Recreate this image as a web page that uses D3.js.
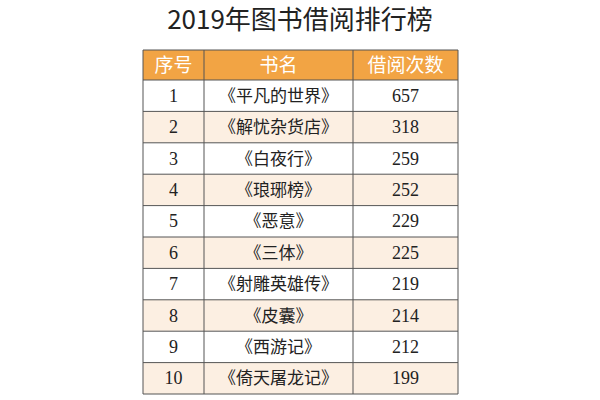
<!DOCTYPE html><html><head><meta charset="utf-8"><script src="https://cdn.jsdelivr.net/npm/d3@7"></script>
<style>body{margin:0;background:#fff}</style></head><body><svg id="c" width="600" height="400"></svg>
<script>
const title = "2019年图书借阅排行榜";
const headers = ["序号","书名","借阅次数"];
const ranks = [1,2,3,4,5,6,7,8,9,10];
const books = ["《平凡的世界》","《解忧杂货店》","《白夜行》","《琅琊榜》","《恶意》","《三体》","《射雕英雄传》","《皮囊》","《西游记》","《倚天屠龙记》"];
const counts = [657,318,259,252,229,225,219,214,212,199];

const svg = d3.select("#c");
svg.append("text").attr("x",300).attr("y",29).attr("text-anchor","middle")
  .attr("font-family","Noto Sans CJK SC").attr("font-size",26).attr("fill","#222").text(title);
const colX = [143,204,353,458];
const top0 = 50, headH = 30, rowH = 31.4;
const y = d3.scaleBand().domain(ranks).range([top0+headH, top0+headH+rowH*10]);
svg.append("rect").attr("x",colX[0]).attr("y",top0).attr("width",colX[3]-colX[0]).attr("height",headH).attr("fill","#f2a444");
headers.forEach((h,i)=>svg.append("text").attr("x",(colX[i]+colX[i+1])/2).attr("y",top0+headH/2+7)
  .attr("text-anchor","middle").attr("font-family","Noto Sans CJK SC").attr("font-size",19).attr("fill","#fff").text(h));
const g = svg.selectAll("g.r").data(ranks).join("g");
g.append("rect").attr("x",colX[0]).attr("y",d=>y(d)).attr("width",colX[3]-colX[0]).attr("height",y.bandwidth())
  .attr("fill",(d,i)=>i%2? "#fcefe2":"#fff");
const cols=[ranks,books,counts];
cols.forEach((arr,ci)=>g.append("text").attr("x",(colX[ci]+colX[ci+1])/2).attr("y",d=>y(d)+y.bandwidth()/2+6)
  .attr("text-anchor","middle").attr("font-family",ci==1?"Noto Sans CJK SC":"Liberation Serif")
  .attr("font-size",ci==1?17:18).attr("fill","#222").text((d,i)=>arr[i]));
// grid lines
const bottom = top0+headH+rowH*10;
[top0+headH,...ranks.map(d=>y(d)+y.bandwidth())].forEach(v=>svg.append("line").attr("x1",colX[0]).attr("x2",colX[3]).attr("y1",v).attr("y2",v).attr("stroke","#555").attr("stroke-width",1));
colX.forEach(v=>svg.append("line").attr("x1",v).attr("x2",v).attr("y1",top0).attr("y2",bottom).attr("stroke","#555").attr("stroke-width",1));
svg.append("line").attr("x1",colX[0]).attr("x2",colX[3]).attr("y1",top0).attr("y2",top0).attr("stroke","#555");
</script></body></html>
